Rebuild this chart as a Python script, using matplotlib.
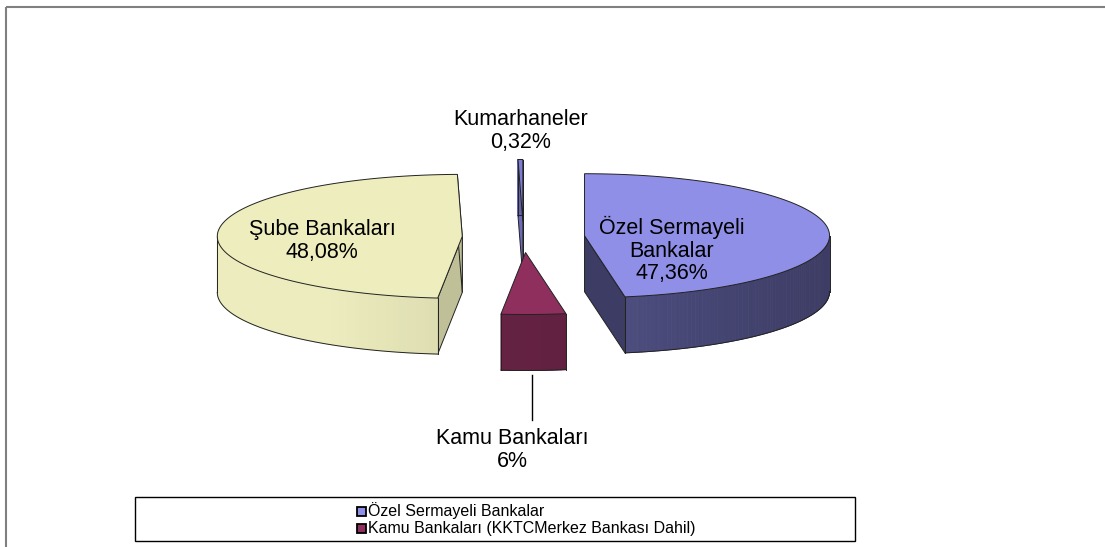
import numpy as np
import matplotlib
matplotlib.use("Agg")
from matplotlib import pyplot as plt
from matplotlib.patches import Polygon, Rectangle

plt.rcParams['font.family'] = ['Liberation Sans', 'DejaVu Sans']

# veriler (saat yonunde, 90 dereceden baslayarak)
dilimler = ["Özel Sermayeli Bankalar", "Kamu Bankaları", "Şube Bankaları", "Kumarhaneler"]
degerler = [47.36, 4.24, 48.08, 0.32]
etiketler = ["Özel Sermayeli\nBankalar\n47,36%", "Kamu Bankaları\n6%",
             "Şube Bankaları\n48,08%", "Kumarhaneler\n0,32%"]
ust_renk = ["#8f8fe8", "#8e2f5e", "#ededbd", "#7c7cd0"]
yan_renk_acik = ["#6464a4", "#6c2649", "#ececbe", "#5c5ca0"]
yan_renk_koyu = ["#3c3c64", "#5c1d3c", "#c0c098", "#6a6ab8"]
lejant = ["Özel Sermayeli Bankalar", "Kamu Bankaları (KKTCMerkez Bankası Dahil)"]
lejant_renk = ["#8f8fe8", "#8e2f5e"]

# pasta geometrisi (piksel)
cx, cy = 523.5, 237.0
rx, ry = 245.0, 62.0
derinlik = 56.0
patlama = 0.25


def nokta(ax0, ay0, t):
    return ax0 + rx*np.cos(t), ay0 - ry*np.sin(t)


def karistir(c1, c2, f):
    a = np.array(matplotlib.colors.to_rgb(c1))
    b = np.array(matplotlib.colors.to_rgb(c2))
    return tuple(a*(1-f) + b*f)


fig = plt.figure(figsize=(11.05, 5.47), dpi=100)
ax = fig.add_axes([0, 0, 1, 1])
ax.set_xlim(0, 1105)
ax.set_ylim(547, 0)
ax.axis('off')

# cerceve
ax.add_patch(Rectangle((6, 7), 1120, 600, fill=False, edgecolor="#808080", lw=1.5, zorder=1))

toplam = sum(degerler)
basla = np.pi/2
parcalar = []
for i, v in enumerate(degerler):
    aci = 2*np.pi*v/toplam
    a0, a1 = basla, basla - aci
    orta = (a0 + a1)/2
    px = cx + patlama*rx*np.cos(orta)
    py = cy - patlama*ry*np.sin(orta)
    parcalar.append((i, a0, a1, px, py))
    basla = a1

# arkadan one dogru ciz
sira = sorted(parcalar, key=lambda p: p[4])
z = 2
for i, a0, a1, px, py in sira:
    kenar = dict(edgecolor="#222222", lw=0.7)
    # radyal yuzler
    for phi, normal in ((a0, a0 + np.pi/2), (a1, a1 - np.pi/2)):
        if np.sin(normal) < 0.05:
            ex, ey = nokta(px, py, phi)
            pts = [(px, py), (ex, ey), (ex, ey + derinlik), (px, py + derinlik)]
            ax.add_patch(Polygon(pts, closed=True, facecolor=yan_renk_koyu[i], zorder=z, **kenar))
            z += 1
    # dis duvar (on yari)
    lo, hi = max(a1, -np.pi), min(a0, 0.0)
    if a0 < -np.pi:
        lo, hi = a1, a0
    if hi > lo:
        tt = np.linspace(hi, lo, 80)
        for k in range(len(tt) - 1):
            x1, y1 = nokta(px, py, tt[k])
            x2, y2 = nokta(px, py, tt[k+1])
            f = (np.cos(tt[k]) + 1)/2
            if i == 2:
                f = np.clip((np.cos(tt[k]) + 0.55)/1.4, 0, 1)
            renk = karistir(yan_renk_acik[i], yan_renk_koyu[i], f)
            ax.add_patch(Polygon([(x1, y1), (x2, y2), (x2, y2 + derinlik), (x1, y1 + derinlik)],
                                 closed=True, facecolor=renk, edgecolor=renk, lw=0.6, zorder=z))
        xs, ys = nokta(px, py, tt)
        ax.plot(xs, ys + derinlik, color="#222222", lw=0.7, zorder=z + 0.5)
        for t in (hi, lo):
            ex, ey = nokta(px, py, t)
            ax.plot([ex, ex], [ey, ey + derinlik], color="#222222", lw=0.7, zorder=z + 0.5)
        z += 1
    # ust yuz
    tt = np.linspace(a0, a1, 200)
    xs, ys = nokta(px, py, tt)
    pts = [(px, py)] + list(zip(xs, ys))
    ax.add_patch(Polygon(pts, closed=True, facecolor=ust_renk[i], zorder=z, **kenar))
    z += 1

# etiketler
etiket_yer = [(672, 250), (512, 450), (322, 241), (521, 131)]
for (tx, ty), e in zip(etiket_yer, etiketler):
    ax.text(tx, ty, e, ha="center", va="center", fontsize=15.5, color="black",
            linespacing=1.12, zorder=50)
# kamu bankalari icin cizgi
ax.plot([532, 532], [375, 420], color="black", lw=1.0, zorder=50)

# lejant
ax.add_patch(Rectangle((135, 497), 720, 44, fill=False, edgecolor="black", lw=1.0, zorder=40))
for k, (ad, renk) in enumerate(zip(lejant, lejant_renk)):
    yy = 511 + 17*k
    ax.add_patch(Rectangle((357, yy - 4.5), 9, 9, facecolor=renk, edgecolor="black", lw=1.3, zorder=41))
    ax.text(368, yy, ad, ha="left", va="center", fontsize=11.5, color="black", zorder=41)

fig.savefig("out.png", dpi=100)
